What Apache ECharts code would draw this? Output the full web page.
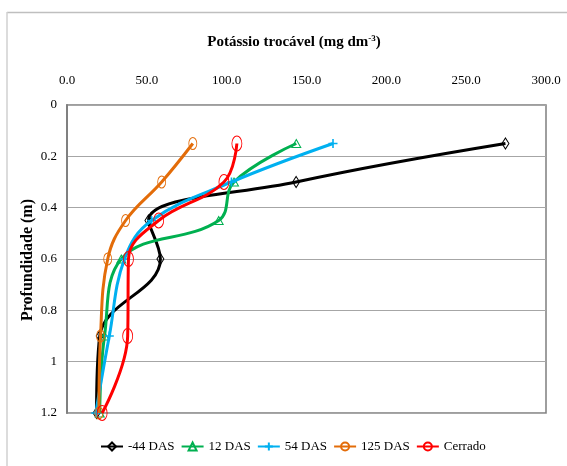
<!DOCTYPE html>
<html>
<head>
<meta charset="utf-8">
<script src="https://cdn.jsdelivr.net/npm/echarts@6/dist/echarts.min.js"></script>
<style>html,body{margin:0;padding:0;background:#fff}#c{width:567px;height:466px}</style>
</head>
<body>
<div id="c"></div>
<script>
var depths = [0.15, 0.3, 0.45, 0.6, 0.9, 1.2];
var seriesNames = ['-44 DAS', '12 DAS', '54 DAS', '125 DAS', 'Cerrado'];
var neg44 = [274.6, 143.5, 51, 58.5, 20.5, 18.5];
var das12 = [143.6, 104.6, 95, 34, 23.5, 20.5];
var das54 = [166.6, 103, 53, 36, 26.5, 18];
var das125 = [78.8, 59.3, 36.7, 25.5, 21, 20];
var cerrado = [106.4, 98.3, 57.4, 38.5, 38, 22];
var xTicks = [0, 50, 100, 150, 200, 250, 300];
var yTicks = [0, 0.2, 0.4, 0.6, 0.8, 1, 1.2];
var yAxisTitle = 'Profundidade (m)';

var font = '"Liberation Serif", "Times New Roman", serif';
var colors = ['#000000', '#00b050', '#00b0f0', '#e36c09', '#ff0000'];
var symbols = ['diamond', 'triangle', 'path://M0,5L10,5M5,0L5,10', 'circle', 'circle'];
var symSizes = [[7, 11], [9, 8], [9, 9], [8, 12], [10, 15]];
var values = [neg44, das12, das54, das125, cerrado];

function pairs(v) {
  return v.map(function (x, i) { return [x, depths[i]]; });
}

var series = values.map(function (v, i) {
  return {
    name: seriesNames[i],
    type: 'line',
    data: pairs(v),
    smooth: 0.4,
    symbol: symbols[i],
    symbolSize: symSizes[i],
    showAllSymbol: true,
    lineStyle: { color: colors[i], width: 3 },
    itemStyle: { color: 'rgba(255,255,255,0)', borderColor: colors[i], borderWidth: i === 2 ? 1.6 : 1 },
    emphasis: { disabled: true },
    z: 2 + i
  };
});

var chart = echarts.init(document.getElementById('c'), null, { renderer: 'canvas' });
chart.setOption({
  backgroundColor: '#ffffff',
  animation: false,
  title: {
    text: '{a|Potássio trocável (mg dm}{s|-3}{a|)}',
    left: 289,
    textAlign: 'center',
    top: 29,
    textStyle: {
      rich: {
        a: { fontFamily: font, fontWeight: 'bold', fontSize: 15, color: '#000' },
        s: { fontFamily: font, fontWeight: 'bold', fontSize: 9, color: '#000', verticalAlign: 'top', padding: [0, 0, 7, 0] }
      }
    }
  },
  grid: {
    left: 67, right: 21, top: 105, bottom: 53,
    show: true, borderColor: '#7f7f7f', borderWidth: 1.5, backgroundColor: 'transparent'
  },
  legend: {
    left: 100,
    top: 440,
    padding: 0,
    itemWidth: 22,
    itemHeight: 10,
    itemGap: 6,
    data: seriesNames,
    textStyle: { fontFamily: font, fontSize: 13, color: '#000' }
  },
  xAxis: {
    type: 'value',
    position: 'top',
    min: 0, max: 300, interval: 50,
    axisLine: { show: false },
    axisTick: { show: false },
    splitLine: { show: false },
    axisLabel: {
      margin: 18,
      fontFamily: font, fontSize: 13, color: '#000',
      formatter: function (v) { return v.toFixed(1); }
    }
  },
  yAxis: {
    type: 'value',
    inverse: true,
    min: 0, max: 1.2, interval: 0.2,
    axisLine: { show: true, lineStyle: { color: '#808080', width: 2 } },
    axisTick: { show: false },
    splitLine: { show: true, lineStyle: { color: '#a6a6a6', width: 1 } },
    axisLabel: {
      margin: 10,
      fontFamily: font, fontSize: 13, color: '#000',
      formatter: function (v) { return String(Math.round(v * 10) / 10); }
    }
  },
  graphic: [
    { type: 'line', shape: { x1: 7, y1: 12.5, x2: 567, y2: 12.5 }, style: { stroke: '#bfbfbf', lineWidth: 1.5 }, silent: true },
    { type: 'line', shape: { x1: 7, y1: 12, x2: 7, y2: 466 }, style: { stroke: '#d0d0d0', lineWidth: 1.5 }, silent: true },
    {
      type: 'text', x: 28, y: 260, rotation: Math.PI / 2, silent: true,
      style: {
        text: yAxisTitle, fill: '#000',
        font: 'bold 16px ' + font,
        align: 'center', verticalAlign: 'middle'
      }
    }
  ],
  series: series
});
</script>
</body>
</html>
